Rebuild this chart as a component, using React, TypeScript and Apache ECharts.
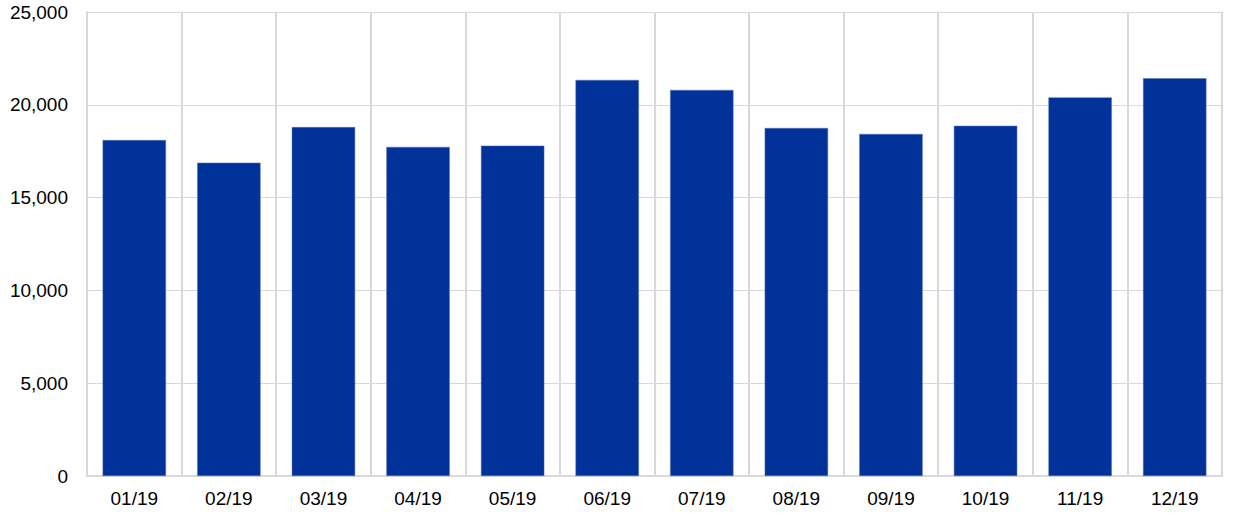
import React, { useEffect, useRef } from "react";
import * as echarts from "echarts";

const categories = ["01/19", "02/19", "03/19", "04/19", "05/19", "06/19", "07/19", "08/19", "09/19", "10/19", "11/19", "12/19"];
const values = [18100, 16880, 18800, 17730, 17800, 21340, 20800, 18750, 18430, 18870, 20400, 21430];
const yMin = 0;
const yMax = 25000;
const yInterval = 5000;

export default function App() {
  const ref = useRef<HTMLDivElement>(null);
  useEffect(() => {
    if (!ref.current) return;
    const chart = echarts.init(ref.current, null, { renderer: "svg" });
    chart.setOption({
      animation: false,
      backgroundColor: "#ffffff",
      grid: { left: 87, right: 18, top: 12, bottom: 42, containLabel: false },
      xAxis: {
        type: "category",
        data: categories,
        boundaryGap: true,
        axisLine: { show: true, lineStyle: { color: "#d9d9d9", width: 2 } },
        axisTick: { show: false },
        splitLine: { show: true, lineStyle: { color: "#d9d9d9", width: 2 } },
        axisLabel: { color: "#000", fontSize: 19, fontFamily: "Liberation Sans, Arial, sans-serif", margin: 13 },
      },
      yAxis: {
        type: "value",
        min: yMin,
        max: yMax,
        interval: yInterval,
        axisLine: { show: true, lineStyle: { color: "#d9d9d9", width: 2 } },
        axisTick: { show: false },
        splitLine: { show: true, lineStyle: { color: "#d9d9d9", width: 1 } },
        axisLabel: {
          color: "#000",
          fontSize: 19,
          fontFamily: "Liberation Sans, Arial, sans-serif",
          margin: 19,
          formatter: (v: number) => v.toLocaleString("en-US"),
        },
      },
      series: [
        {
          type: "bar",
          data: values,
          barWidth: "67%",
          itemStyle: { color: "#003299", borderColor: "#5a73b8", borderWidth: 0.5 },
        },
      ],
    });
    return () => chart.dispose();
  }, []);
  return <div ref={ref} style={{ position: "fixed", left: 0, top: 0, width: 1240, height: 518 }} />;
}
